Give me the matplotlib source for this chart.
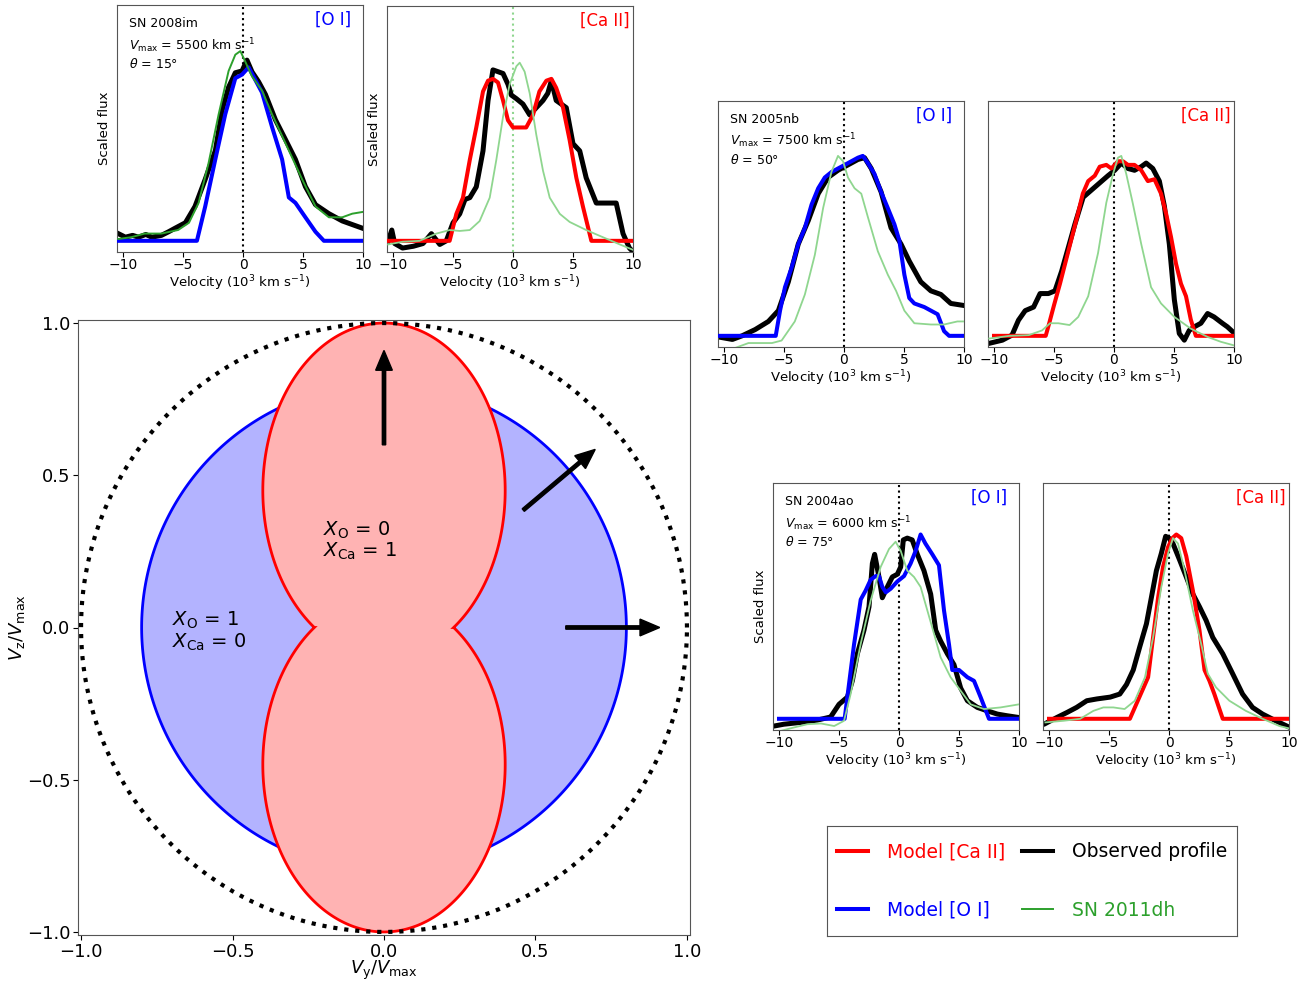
import numpy as np
import matplotlib
matplotlib.use('Agg')
import matplotlib.pyplot as plt
from matplotlib.lines import Line2D

# ---------------- data (velocity in 10^3 km/s, scaled flux) ----------------
# Panel 1: SN 2008im [O I]
p1_obs_v = [-10.4, -9.8, -9.2, -8.7, -8.1, -7.6, -6.8, -6.2, -5.65, -4.8, -4.0, -3.15, -2.3, -1.75, -1.2, -0.64, -0.08, 0.33, 0.75, 1.3, 1.87, 2.7, 3.54, 4.37, 5.2, 6.04, 7.16, 8.27, 9.1, 9.94]
p1_obs_f = [0.04, 0.02, 0.03, 0.02, 0.035, 0.02, 0.03, 0.05, 0.07, 0.10, 0.19, 0.34, 0.50, 0.72, 0.85, 0.93, 0.94, 1.0, 0.935, 0.88, 0.81, 0.67, 0.56, 0.45, 0.30, 0.20, 0.15, 0.11, 0.09, 0.07]
p1_mod_v = [-10.5, -3.84, -3.15, -2.31, -1.48, -0.64, -0.08, 0.47, 1.03, 1.59, 2.42, 3.26, 3.82, 4.37, 5.2, 6.04, 6.74, 10.0]
p1_mod_f = [0, 0, 0.19, 0.45, 0.70, 0.90, 0.92, 0.96, 0.89, 0.82, 0.63, 0.45, 0.24, 0.21, 0.13, 0.05, 0, 0]
p1_dh_v = [-10.4, -9.3, -8.2, -6.8, -5.4, -4.5, -3.7, -2.87, -2.03, -1.2, -0.64, -0.22, 0.2, 0.75, 1.59, 2.42, 3.26, 4.1, 4.93, 6.04, 7.16, 8.27, 9.1, 10.0]
p1_dh_f = [0.01, 0.02, 0.04, 0.04, 0.06, 0.10, 0.21, 0.43, 0.70, 0.94, 1.03, 1.05, 0.99, 0.91, 0.83, 0.70, 0.58, 0.46, 0.34, 0.19, 0.13, 0.13, 0.15, 0.16]

# Panel 2: SN 2008im [Ca II]
p2_obs_v = [-10.4, -10.1, -9.86, -9.2, -8.3, -7.5, -6.8, -6.1, -5.56, -5.0, -4.44, -4.0, -3.6, -3.06, -2.5, -2.08, -1.67, -1.25, -0.83, -0.42, -0.14, 0.28, 0.83, 1.39, 1.94, 2.5, 2.9, 3.2, 3.6, 4.44, 5.0, 5.56, 6.1, 6.94, 7.78, 8.6, 9.17, 9.7, 10.0]
p2_obs_f = [0.0, 0.06, -0.015, -0.04, -0.03, -0.015, 0.04, -0.02, 0.0, 0.10, 0.15, 0.23, 0.24, 0.30, 0.50, 0.78, 0.95, 0.94, 0.93, 0.87, 0.81, 0.79, 0.76, 0.70, 0.74, 0.78, 0.82, 0.89, 0.78, 0.74, 0.54, 0.50, 0.35, 0.21, 0.21, 0.21, 0.04, -0.04, -0.06]
p2_mod_v = [-10.5, -5.28, -4.72, -4.17, -3.6, -3.06, -2.5, -2.08, -1.67, -1.25, -0.83, -0.42, 0.0, 0.56, 1.1, 1.67, 2.2, 2.78, 3.2, 3.6, 4.17, 4.72, 5.28, 5.83, 6.53, 10.0]
p2_mod_f = [0, 0, 0.15, 0.24, 0.45, 0.63, 0.83, 0.89, 0.90, 0.88, 0.78, 0.67, 0.63, 0.63, 0.63, 0.70, 0.83, 0.89, 0.90, 0.85, 0.74, 0.56, 0.35, 0.19, 0, 0]
p2_dh_v = [-10.4, -9.2, -7.8, -6.4, -5.28, -4.44, -3.6, -2.78, -1.94, -1.39, -0.83, -0.28, 0.28, 0.56, 0.97, 1.39, 1.94, 2.5, 3.06, 3.9, 4.72, 6.1, 7.5, 8.9, 10.0]
p2_dh_f = [-0.02, -0.005, 0.0, 0.04, 0.06, 0.055, 0.06, 0.11, 0.24, 0.45, 0.69, 0.87, 0.97, 0.99, 0.94, 0.82, 0.59, 0.39, 0.24, 0.15, 0.105, 0.06, 0.02, -0.02, -0.05]

# Panel 3: SN 2005nb [O I]
p3_obs_v = [-10.4, -9.3, -8.5, -7.4, -6.3, -5.47, -4.64, -3.81, -2.98, -2.15, -1.33, -0.5, 0.33, 1.16, 1.71, 2.27, 3.09, 3.92, 4.75, 5.44, 6.4, 7.24, 8.07, 8.9, 9.86]
p3_obs_f = [-0.007, -0.02, 0.0, 0.035, 0.08, 0.14, 0.30, 0.51, 0.64, 0.79, 0.88, 0.92, 0.95, 0.98, 0.99, 0.93, 0.80, 0.60, 0.51, 0.415, 0.30, 0.25, 0.23, 0.18, 0.17]
p3_mod_v = [-10.35, -5.69, -5.33, -4.92, -4.36, -3.81, -3.26, -2.7, -2.15, -1.6, -1.05, -0.5, 0.06, 0.61, 1.16, 1.57, 1.99, 2.54, 3.09, 3.65, 4.2, 4.61, 5.03, 5.44, 5.86, 6.69, 7.8, 8.34, 8.76, 10.0]
p3_mod_f = [0, 0, 0.14, 0.27, 0.38, 0.51, 0.60, 0.73, 0.82, 0.88, 0.91, 0.93, 0.95, 0.97, 0.99, 1.0, 0.96, 0.90, 0.80, 0.71, 0.62, 0.53, 0.34, 0.21, 0.18, 0.16, 0.12, 0.026, 0, 0]
p3_dh_v = [-10.4, -9.06, -7.96, -7.13, -6.0, -5.2, -4.1, -3.26, -2.43, -1.74, -1.05, -0.5, -0.08, 0.33, 0.88, 1.44, 1.99, 2.82, 3.65, 4.34, 5.03, 5.86, 7.24, 8.34, 9.45, 9.94]
p3_dh_f = [-0.09, -0.067, -0.04, -0.04, -0.04, -0.026, 0.08, 0.23, 0.45, 0.71, 0.91, 1.0, 0.97, 0.88, 0.82, 0.79, 0.66, 0.47, 0.34, 0.25, 0.14, 0.07, 0.063, 0.063, 0.08, 0.08]

# Panel 4: SN 2005nb [Ca II]
p4_obs_v = [-10.3, -9.3, -8.5, -7.96, -7.4, -6.7, -6.16, -5.47, -4.92, -4.36, -3.81, -3.26, -2.57, -1.88, -1.19, -0.5, 0.06, 0.61, 1.16, 1.71, 2.27, 2.68, 3.23, 3.78, 4.2, 4.61, 5.03, 5.44, 5.86, 6.27, 6.69, 7.24, 7.8, 8.34, 9.03, 9.45, 9.94]
p4_obs_f = [-0.04, -0.024, 0.004, 0.087, 0.14, 0.16, 0.235, 0.235, 0.25, 0.36, 0.49, 0.62, 0.77, 0.81, 0.85, 0.89, 0.92, 0.96, 0.93, 0.92, 0.94, 0.96, 0.93, 0.86, 0.72, 0.51, 0.20, 0.013, -0.024, 0.03, 0.05, 0.07, 0.124, 0.105, 0.07, 0.05, 0.02]
p4_mod_v = [-10.0, -5.69, -5.4, -5.0, -4.5, -4.0, -3.5, -3.0, -2.6, -2.15, -1.6, -1.19, -0.64, -0.22, 0.33, 0.75, 1.16, 1.71, 2.27, 2.82, 3.37, 3.92, 4.34, 4.75, 5.17, 5.58, 6.0, 6.4, 6.82, 10.0]
p4_mod_f = [0, 0, 0.07, 0.17, 0.29, 0.42, 0.55, 0.68, 0.79, 0.86, 0.89, 0.94, 0.95, 0.93, 0.97, 0.97, 0.95, 0.95, 0.92, 0.86, 0.87, 0.79, 0.68, 0.55, 0.40, 0.29, 0.22, 0.09, 0, 0]
p4_dh_v = [-10.4, -8.7, -7.1, -6.0, -5.33, -4.64, -3.7, -2.98, -2.15, -1.33, -0.64, -0.08, 0.33, 0.61, 1.02, 1.57, 2.27, 3.09, 3.92, 5.03, 6.4, 7.8, 8.9, 9.94]
p4_dh_f = [-0.015, 0.0, 0.004, 0.03, 0.07, 0.07, 0.06, 0.105, 0.22, 0.46, 0.74, 0.90, 0.99, 1.0, 0.90, 0.735, 0.51, 0.27, 0.18, 0.105, 0.04, -0.006, -0.033, -0.052]

# Panel 5: SN 2004ao [O I]
p5_obs_v = [-10.4, -9.6, -8.2, -6.8, -5.7, -5.0, -4.3, -3.89, -3.47, -2.92, -2.5, -2.22, -2.03, -1.67, -1.39, -0.97, -0.56, -0.14, 0.14, 0.36, 0.69, 1.1, 1.53, 2.08, 2.64, 3.06, 3.47, 4.03, 4.58, 5.14, 5.7, 6.53, 7.36, 8.2, 9.0, 10.0]
p5_obs_f = [-0.04, -0.03, -0.02, -0.007, 0.01, 0.08, 0.12, 0.21, 0.36, 0.49, 0.62, 0.86, 0.91, 0.785, 0.67, 0.73, 0.785, 0.80, 0.84, 0.99, 1.0, 0.99, 0.91, 0.82, 0.69, 0.49, 0.43, 0.36, 0.30, 0.17, 0.10, 0.063, 0.044, 0.026, 0.017, 0.007]
p5_mod_v = [-10.0, -4.53, -4.17, -3.75, -3.19, -2.78, -2.36, -1.94, -1.67, -1.39, -1.1, -0.69, -0.14, 0.42, 0.97, 1.39, 1.8, 2.2, 2.78, 3.33, 3.75, 4.17, 4.44, 5.0, 5.7, 6.25, 6.8, 7.5, 10.0]
p5_mod_f = [0, 0, 0.19, 0.41, 0.66, 0.71, 0.77, 0.79, 0.79, 0.73, 0.70, 0.72, 0.76, 0.79, 0.86, 0.93, 1.02, 0.97, 0.91, 0.85, 0.60, 0.41, 0.27, 0.27, 0.23, 0.21, 0.12, 0, 0]
p5_dh_v = [-10.4, -9.86, -8.75, -7.64, -6.5, -5.4, -4.58, -4.03, -3.19, -2.36, -1.53, -0.83, -0.28, 0.14, 0.69, 1.25, 1.8, 2.36, 2.92, 3.47, 4.3, 5.14, 5.97, 7.08, 8.47, 10.0]
p5_dh_f = [-0.08, -0.067, -0.048, -0.03, -0.026, -0.04, -0.011, 0.137, 0.415, 0.655, 0.84, 0.94, 0.98, 0.93, 0.82, 0.785, 0.73, 0.60, 0.47, 0.34, 0.23, 0.155, 0.08, 0.054, 0.063, 0.08]

# Panel 6: SN 2004ao [Ca II]
p6_obs_v = [-10.3, -9.35, -8.5, -7.7, -6.85, -6.0, -4.9, -4.1, -3.54, -2.98, -2.43, -1.88, -1.46, -1.05, -0.64, -0.28, 0.0, 0.33, 0.88, 1.44, 1.99, 2.54, 3.09, 3.65, 4.48, 5.3, 6.13, 6.96, 7.8, 8.9, 9.94]
p6_obs_f = [-0.026, 0.007, 0.035, 0.063, 0.10, 0.11, 0.12, 0.137, 0.19, 0.27, 0.40, 0.526, 0.674, 0.82, 0.915, 1.01, 1.0, 0.97, 0.88, 0.785, 0.69, 0.62, 0.545, 0.45, 0.36, 0.25, 0.137, 0.063, 0.026, -0.011, -0.044]
p6_mod_v = [-10.0, -3.26, -1.74, -1.33, -0.91, -0.5, -0.08, 0.28, 0.61, 1.02, 1.44, 1.99, 2.54, 2.96, 3.37, 3.78, 4.48, 10.0]
p6_mod_f = [0, 0, 0.23, 0.45, 0.67, 0.84, 0.95, 1.0, 1.02, 1.0, 0.90, 0.71, 0.49, 0.27, 0.21, 0.137, 0, 0]
p6_dh_v = [-10.3, -8.8, -7.4, -6.3, -5.47, -4.64, -3.7, -2.85, -2.0, -1.33, -0.64, -0.08, 0.33, 0.75, 1.3, 1.99, 2.68, 3.23, 3.92, 5.03, 6.4, 7.8, 9.2, 9.94]
p6_dh_f = [-0.02, -0.011, 0.0, 0.044, 0.063, 0.063, 0.054, 0.10, 0.23, 0.45, 0.73, 0.915, 1.0, 0.97, 0.82, 0.60, 0.415, 0.25, 0.174, 0.10, 0.044, 0.0, -0.04, -0.052]

sn_names = ['SN 2008im', 'SN 2005nb', 'SN 2004ao']
vmax_values = [5500, 7500, 6000]
theta_values = [15, 50, 75]

# geometry of the main panel (in units of V_max)
o_sphere_radius = 0.8
ca_lobe_center = 0.45
ca_lobe_semi_x = 0.40
ca_lobe_semi_z = 0.55
outer_radius = 1.0
arrow_angles_deg = [90, 40, 0]
arrow_start_r = 0.6
arrow_length = 0.31

# ---------------- figure ----------------
W, H = 1311, 983
fig = plt.figure(figsize=(W / 100, H / 100), dpi=100)

def px_axes(x0, y0, x1, y1):
    return fig.add_axes([x0 / W, 1 - y1 / H, (x1 - x0) / W, (y1 - y0) / H])

SPINE = '#555555'
DH_DARK = '#2ca02c'
DH_LIGHT = '#8fd68f'

# ---- main geometry panel ----
ax = px_axes(78, 320, 690, 935)
t = np.linspace(0, 2 * np.pi, 400)
ax.fill(o_sphere_radius * np.cos(t), o_sphere_radius * np.sin(t),
        facecolor='#b3b3ff', edgecolor='blue', lw=2, zorder=1)

s0 = np.arcsin(ca_lobe_center / ca_lobe_semi_z)
tu = np.linspace(-s0, np.pi + s0, 300)
tl = np.linspace(np.pi - s0, 2 * np.pi + s0, 300)
xs = np.concatenate([ca_lobe_semi_x * np.cos(tu), ca_lobe_semi_x * np.cos(tl)])
zs = np.concatenate([ca_lobe_center + ca_lobe_semi_z * np.sin(tu),
                     -ca_lobe_center + ca_lobe_semi_z * np.sin(tl)])
ax.fill(xs, zs, facecolor='#ffb3b3', edgecolor='red', lw=2, zorder=2)

ax.plot(outer_radius * np.cos(t), outer_radius * np.sin(t), ls=':', color='k', lw=3, zorder=3)

for ang in arrow_angles_deg:
    a = np.deg2rad(ang)
    ax.arrow(arrow_start_r * np.cos(a), arrow_start_r * np.sin(a),
             arrow_length * np.cos(a), arrow_length * np.sin(a),
             width=0.011, head_width=0.055, head_length=0.065,
             length_includes_head=True, color='k', zorder=5)

ax.text(-0.20, 0.32, r'$X_{\rm O}$ = 0', fontsize=14, va='center')
ax.text(-0.20, 0.25, r'$X_{\rm Ca}$ = 1', fontsize=14, va='center')
ax.text(-0.70, 0.025, r'$X_{\rm O}$ = 1', fontsize=14, va='center')
ax.text(-0.70, -0.048, r'$X_{\rm Ca}$ = 0', fontsize=14, va='center')

ax.set_xlim(-1.01, 1.01)
ax.set_ylim(-1.01, 1.01)
ax.set_xticks([-1.0, -0.5, 0.0, 0.5, 1.0])
ax.set_yticks([-1.0, -0.5, 0.0, 0.5, 1.0])
ax.tick_params(labelsize=13, pad=2)
ax.set_xlabel(r'$V_{\rm y}/V_{\rm max}$', fontsize=13, labelpad=-1)
ax.set_ylabel(r'$V_{\rm z}/V_{\rm max}$', fontsize=13, labelpad=0)
for sp in ax.spines.values():
    sp.set_color(SPINE)

# ---- spectral panels ----
panels = [
    dict(box=(117, 5, 363, 252), obs=(p1_obs_v, p1_obs_f), mod=(p1_mod_v, p1_mod_f),
         dh=(p1_dh_v, p1_dh_f), line='[O I]', info=0, ylabel=True, dhc=DH_DARK, dhlw=1.4, zc='k'),
    dict(box=(387, 6, 633, 252), obs=(p2_obs_v, p2_obs_f), mod=(p2_mod_v, p2_mod_f),
         dh=(p2_dh_v, p2_dh_f), line='[Ca II]', info=None, ylabel=True, dhc=DH_LIGHT, dhlw=1.3, zc=DH_LIGHT),
    dict(box=(718, 101, 964, 347), obs=(p3_obs_v, p3_obs_f), mod=(p3_mod_v, p3_mod_f),
         dh=(p3_dh_v, p3_dh_f), line='[O I]', info=1, ylabel=False, dhc=DH_LIGHT, dhlw=1.3, zc='k'),
    dict(box=(988, 101, 1234, 347), obs=(p4_obs_v, p4_obs_f), mod=(p4_mod_v, p4_mod_f),
         dh=(p4_dh_v, p4_dh_f), line='[Ca II]', info=None, ylabel=False, dhc=DH_LIGHT, dhlw=1.3, zc='k'),
    dict(box=(773, 483, 1019, 730), obs=(p5_obs_v, p5_obs_f), mod=(p5_mod_v, p5_mod_f),
         dh=(p5_dh_v, p5_dh_f), line='[O I]', info=2, ylabel=True, dhc=DH_LIGHT, dhlw=1.3, zc='k'),
    dict(box=(1043, 483, 1289, 730), obs=(p6_obs_v, p6_obs_f), mod=(p6_mod_v, p6_mod_f),
         dh=(p6_dh_v, p6_dh_f), line='[Ca II]', info=None, ylabel=False, dhc=DH_LIGHT, dhlw=1.3, zc='k'),
]

for p in panels:
    a = px_axes(*p['box'])
    a.axvline(0, color=p['zc'], ls=':', lw=1.5, zorder=1)
    a.plot(*p['obs'], color='k', lw=3.6, zorder=2, solid_joinstyle='round')
    mc = 'blue' if p['line'] == '[O I]' else 'red'
    a.plot(*p['mod'], color=mc, lw=2.9, zorder=3)
    a.plot(*p['dh'], color=p['dhc'], lw=p['dhlw'], zorder=4)
    a.set_xlim(-10.5, 10)
    a.set_ylim(-0.062, 1.305)
    a.set_xticks([-10, -5, 0, 5, 10])
    a.set_yticks([])
    a.tick_params(labelsize=10, pad=1)
    a.set_xlabel(r'Velocity (10$^3$ km s$^{-1}$)', fontsize=9.5, labelpad=0.5)
    if p['ylabel']:
        a.set_ylabel('Scaled flux', fontsize=9.5, labelpad=4)
    for sp in a.spines.values():
        sp.set_color(SPINE)
    if p['line'] == '[O I]':
        a.text(0.95, 0.975, '[O I]', color='blue', fontsize=12, ha='right', va='top',
               transform=a.transAxes)
    else:
        a.text(0.985, 0.975, '[Ca II]', color='red', fontsize=12, ha='right', va='top',
               transform=a.transAxes)
    if p['info'] is not None:
        i = p['info']
        a.text(0.05, 0.95, sn_names[i], fontsize=9, ha='left', va='top', transform=a.transAxes)
        a.text(0.05, 0.875, r'$V_{\rm max}$ = %d km s$^{-1}$' % vmax_values[i], fontsize=9,
               ha='left', va='top', transform=a.transAxes)
        a.text(0.05, 0.79, r'$\theta$ = %d°' % theta_values[i], fontsize=9,
               ha='left', va='top', transform=a.transAxes)

# ---- legend ----
axl = px_axes(827, 826, 1237, 936)
axl.set_xticks([])
axl.set_yticks([])
for sp in axl.spines.values():
    sp.set_color(SPINE)
handles = [Line2D([], [], color='red', lw=2.9),
           Line2D([], [], color='blue', lw=2.9),
           Line2D([], [], color='k', lw=2.9),
           Line2D([], [], color=DH_DARK, lw=1.4)]
labels = ['Model [Ca II]', 'Model [O I]', 'Observed profile', 'SN 2011dh']
leg = axl.legend(handles, labels, loc='center', ncol=2, frameon=False, fontsize=13.5,
                 labelspacing=2.1, handlelength=1.65, handletextpad=1.0,
                 columnspacing=0.9, borderpad=0.3)
for txt, col in zip(leg.get_texts(), ['red', 'blue', 'k', DH_DARK]):
    txt.set_color(col)

fig.savefig('out.png', dpi=100)
